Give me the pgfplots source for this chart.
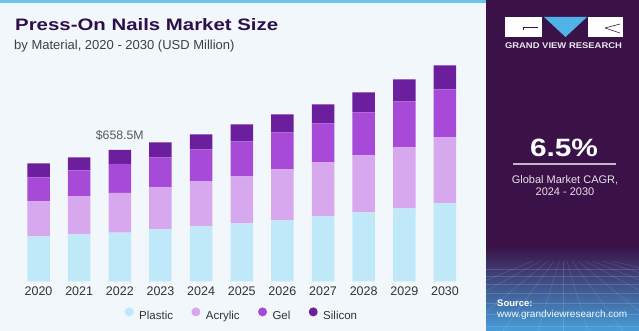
\documentclass[border=0pt]{standalone}
\usepackage{pgfplots}
\pgfplotsset{compat=1.18}
\usepackage{fontspec}
\setmainfont{Liberation Sans}
\definecolor{bgL}{HTML}{F2F7FB}
\definecolor{strip}{HTML}{6CC5EE}
\definecolor{panel}{HTML}{3A1247}
\definecolor{ttl}{HTML}{2D0F4A}
\definecolor{cPl}{HTML}{BFE8F8}
\definecolor{cAc}{HTML}{D8A8EE}
\definecolor{cGe}{HTML}{A84AD8}
\definecolor{cSi}{HTML}{6B1F9C}
\definecolor{tri}{HTML}{4FB3E8}
\definecolor{blu}{HTML}{479FDA}
\begin{document}
\begin{tikzpicture}[x=1pt,y=1pt]
% backgrounds
\fill[bgL] (0,0) rectangle (486,331);
\fill[strip] (0,328) rectangle (486,331);
\fill[panel] (486,0) rectangle (639,331);
\shade[top color=panel, bottom color=blu] (486,0) rectangle (639,85);
\begin{scope}
\clip (486,0) rectangle (639,70);
\foreach \yy in {62,55,47,38,28,17,5} {\draw[white, opacity=0.14, line width=0.5] (486,\yy) -- (639,\yy);}
\foreach \xx in {-200,-150,-100,-60,-25,0,25,60,100,150,200,260,330} {\draw[white, opacity=0.14, line width=0.5] (563+\xx*0.15,70) -- (563+\xx,0);}
\end{scope}
% logo
\fill[white] (505,294) rectangle (542,314);
\draw[panel, line width=0.6] (523,304) -- (538,304) (523,304) -- (523,301);
\fill[tri] (544,314) -- (587,314) -- (565.5,294) -- cycle;
\fill[white] (588,294) rectangle (623,314);
\draw[panel, line width=0.6] (605,303) -- (620,307) (605,303) -- (620,298);
\node[anchor=base, inner sep=0pt, text=white!90!panel] at (563.5,282) {\resizebox{117pt}{5.8pt}{\bfseries GRAND VIEW RESEARCH}};
% CAGR
\node[anchor=base, inner sep=0pt, text=white] at (564,174) {\resizebox{68pt}{17.5pt}{\bfseries 6.5\%}};
\draw[white!70!panel, line width=1.1] (513,167) -- (616,167);
\node[anchor=base, inner sep=0pt, text=white!88!panel, font=\fontsize{11}{13}\selectfont] at (565,147) {Global Market CAGR,};
\node[anchor=base, inner sep=0pt, text=white!88!panel, font=\fontsize{11}{13}\selectfont] at (565,135.3) {2024 - 2030};
\node[anchor=base west, inner sep=0pt, text=white, font=\bfseries\fontsize{9.5}{11}\selectfont] at (497,24.5) {Source:};
\node[anchor=base west, inner sep=0pt, text=white!92!blu, font=\fontsize{10}{12}\selectfont] at (497,13) {www.grandviewresearch.com};
% titles
\node[anchor=base west, inner sep=0pt, text=ttl] at (15,300) {\resizebox{263pt}{12pt}{\bfseries Press-On Nails Market Size}};
\node[anchor=base west, inner sep=0pt, text=black!75, font=\fontsize{13}{15}\selectfont] at (14,281.7) {by Material, 2020 - 2030 (USD Million)};
% chart
\begin{axis}[
  at={(18.2pt,49.5pt)}, anchor=south west,
  scale only axis, width=447.1pt, height=230pt,
  ybar stacked, bar width=22.5pt,
  xmin=-0.5, xmax=10.5, ymin=0, ymax=1150,
  axis line style={draw=none}, major tick length=0pt,
  ytick=\empty,
  xtick={0,...,10},
  xticklabels={2020,2021,2022,2023,2024,2025,2026,2027,2028,2029,2030},
  xticklabel style={inner sep=0pt, yshift=-5pt, text=black!80, font=\fontsize{12.5}{14}\selectfont},
  /pgf/number format/assume math mode=true,
  legend columns=4,
  legend style={at={(0.2378,-0.1413)}, anchor=west, draw=none, fill=none, inner sep=0pt,
    nodes={inner sep=0pt, text=black!80, font=\fontsize{11.5}{13}\selectfont},
    /tikz/every odd column/.append style={column sep=5.5pt},
    /tikz/every even column/.append style={column sep=18.3pt}},
]
\addplot[fill=cPl, draw=none, legend image code/.code={\fill[cPl] (0pt,3.8pt) circle (4.5pt);}] coordinates {(0,225) (1,235) (2,244.5) (3,260) (4,275) (5,290) (6,305) (7,325) (8,345) (9,365) (10,390)};
\addplot[fill=cAc, draw=none, legend image code/.code={\fill[cAc] (0pt,3.8pt) circle (4.5pt);}] coordinates {(0,175) (1,190) (2,199) (3,210) (4,225) (5,235) (6,255) (7,270) (8,285) (9,305) (10,330)};
\addplot[fill=cGe, draw=none, legend image code/.code={\fill[cGe] (0pt,3.8pt) circle (4.5pt);}] coordinates {(0,120) (1,130) (2,145) (3,150) (4,160) (5,175) (6,185) (7,195) (8,215) (9,230) (10,240)};
\addplot[fill=cSi, draw=none, legend image code/.code={\fill[cSi] (0pt,3.8pt) circle (4.5pt);}] coordinates {(0,70) (1,65) (2,70) (3,75) (4,75) (5,85) (6,90) (7,95) (8,100) (9,110) (10,120)};
\legend{Plastic,Acrylic,Gel,Silicon}
\node[anchor=south, inner sep=0pt, text=black!65, font=\fontsize{12.3}{14}\selectfont] at (axis cs:2,658.5) [yshift=9pt] {\$658.5M};
\end{axis}
\end{tikzpicture}
\end{document}
